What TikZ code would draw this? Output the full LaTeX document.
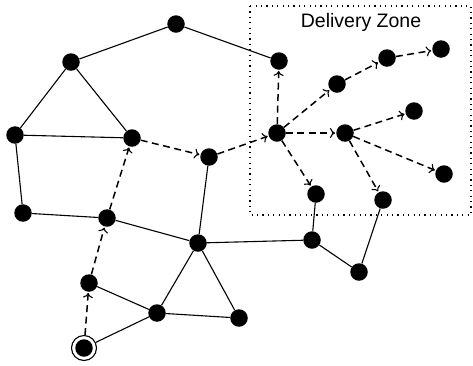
\documentclass[tikz,border=0pt]{standalone}
\usepackage{fontspec}
\setmainfont{Liberation Sans}
\usetikzlibrary{arrows.meta}
\begin{document}
\begin{tikzpicture}[x=1pt,y=-1pt,
  dot/.style={circle,fill=black,inner sep=0pt,minimum size=17.5pt},
  edge/.style={line width=1.1pt},
  route/.style={line width=1.5pt,dash pattern=on 7pt off 4.5pt,-{To[length=5pt,width=10pt,line width=1.1pt]},shorten >=1pt},
  zone/.style={line width=1.4pt,dash pattern=on 1.2pt off 4.2pt}]
\useasboundingbox (0,0) rectangle (473,365);
\draw[zone] (250,6) rectangle (471,215);
\node[font=\fontsize{19.5}{22}\selectfont] (title) at (361,22) {Delivery Zone};
\node[dot] (n1) at (176,24) {};
\node[dot] (n2) at (279,61) {};
\node[dot] (n3) at (71,62) {};
\node[dot] (n4) at (15,135) {};
\node[dot] (n5) at (132,138) {};
\node[dot] (n6) at (209,157) {};
\node[dot] (n7) at (277,133) {};
\node[dot] (n8) at (345,133) {};
\node[dot] (n9) at (387,58) {};
\node[dot] (n10) at (441,49) {};
\node[dot] (n11) at (337,84) {};
\node[dot] (n12) at (414,111) {};
\node[dot] (n13) at (444,174) {};
\node[dot] (n14) at (316,194) {};
\node[dot] (n15) at (383,200) {};
\node[dot] (n16) at (23,213) {};
\node[dot] (n17) at (107,218) {};
\node[dot] (n18) at (198,243) {};
\node[dot] (n19) at (312,240) {};
\node[dot] (n20) at (359,272) {};
\node[dot] (n21) at (89,283) {};
\node[dot] (n22) at (157,313) {};
\node[dot] (n23) at (239,318) {};
\node[dot] (n24) at (84,348) {};
\node[circle,draw,line width=1.1pt,minimum size=25pt,inner sep=0pt] (start) at (n24) {};
% solid edges
\draw[edge] (n1) -- (n2);
\draw[edge] (n1) -- (n3);
\draw[edge] (n3) -- (n4);
\draw[edge] (n3) -- (n5);
\draw[edge] (n4) -- (n5);
\draw[edge] (n4) -- (n16);
\draw[edge] (n16) -- (n17);
\draw[edge] (n17) -- (n18);
\draw[edge] (n6) -- (n18);
\draw[edge] (n18) -- (n19);
\draw[edge] (n19) -- (n14);
\draw[edge] (n19) -- (n20);
\draw[edge] (n20) -- (n15);
\draw[edge] (n18) -- (n22);
\draw[edge] (n18) -- (n23);
\draw[edge] (n22) -- (n23);
\draw[edge] (n21) -- (n22);
\draw[edge] (start) -- (n22);
% dashed routes
\draw[route] (start) -- (n21);
\draw[route] (n21) -- (n17);
\draw[route] (n17) -- (n5);
\draw[route] (n5) -- (n6);
\draw[route] (n6) -- (n7);
\draw[route] (n7) -- (n2);
\draw[route] (n7) -- (n11);
\draw[route] (n11) -- (n9);
\draw[route] (n9) -- (n10);
\draw[route] (n7) -- (n8);
\draw[route] (n7) -- (n14);
\draw[route] (n8) -- (n12);
\draw[route] (n8) -- (n13);
\draw[route] (n8) -- (n15);
\end{tikzpicture}
\end{document}
